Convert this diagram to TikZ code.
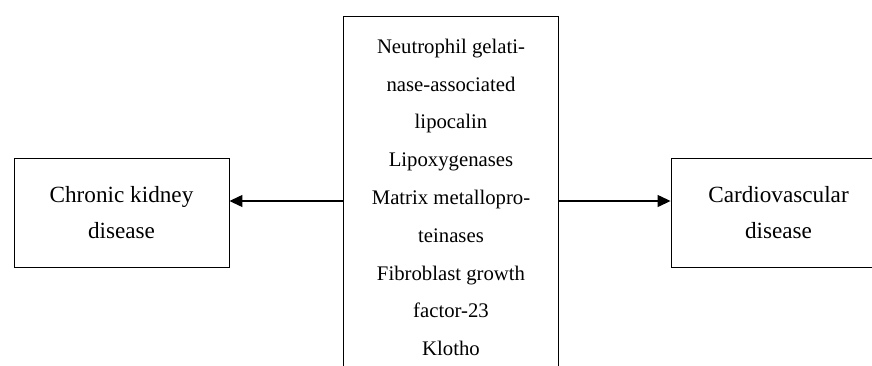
\documentclass[tikz,border=0pt]{standalone}
\usepackage{fontspec}
\setmainfont{Liberation Serif}
\usetikzlibrary{arrows.meta,positioning}
\tikzset{
  sidebox/.style={draw,line width=0.5pt,minimum width=4.3cm,minimum height=2.18cm,align=center,font=\fontsize{13.2}{20.8}\selectfont},
  markbox/.style={draw,line width=0.5pt,minimum width=4.3cm,minimum height=7.24cm,align=center,anchor=north,font=\fontsize{11.8}{21.5}\selectfont},
  link/.style={line width=0.8pt,-{Triangle[length=7.4pt,width=6.8pt]}}
}

\begin{document}
\begin{tikzpicture}[x=1cm,y=1cm]
\useasboundingbox (0,0) rectangle (17.44,-7.3);
\clip (0,0) rectangle (17.44,-7.3);
% biomarkers in the middle, diseases on both sides
\node[markbox] (mark) at (9.02,-0.32) {Neutrophil gelati-\\nase-associated\\lipocalin\\Lipoxygenases\\Matrix metallopro-\\teinases\\Fibroblast growth\\factor-23\\Klotho};
\node[sidebox] (ckd) at (2.43,-4.25) {Chronic kidney\\disease};
\node[sidebox] (cvd) at (15.57,-4.25) {Cardiovascular\\disease};
\coordinate (lvl) at (0,-4.02);
\draw[link] (mark.west |- lvl) -- (ckd.east |- lvl);
\draw[link] (mark.east |- lvl) -- (cvd.west |- lvl);
\end{tikzpicture}
\end{document}
